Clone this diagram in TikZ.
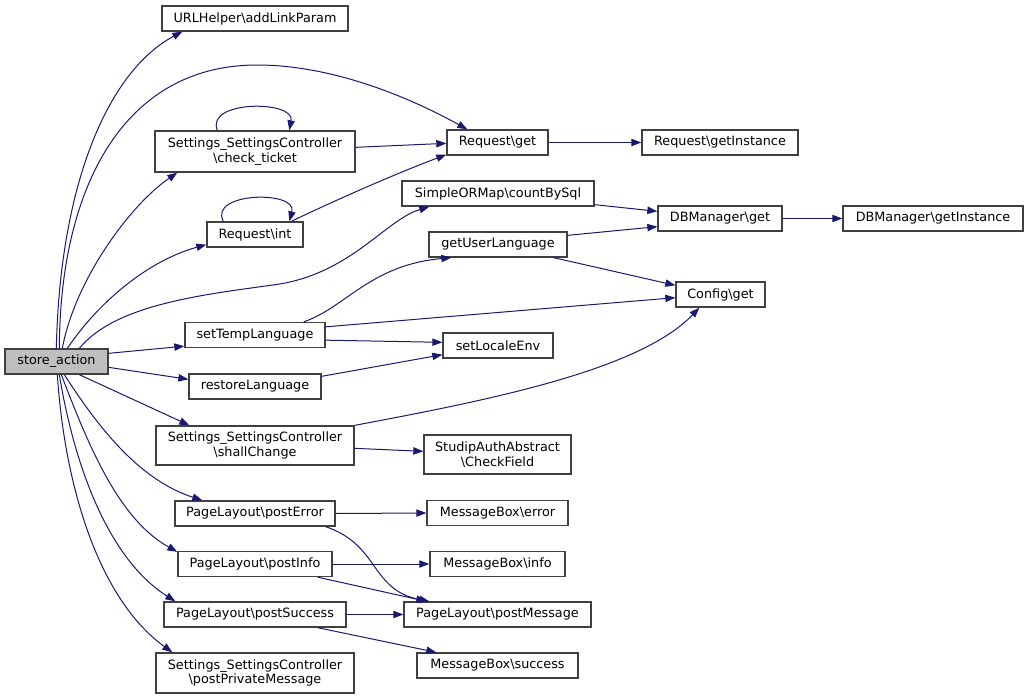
\documentclass[tikz,border=0pt]{standalone}
\usepackage{fontspec}
\setmainfont{DejaVu Sans}
\usetikzlibrary{arrows.meta}
\definecolor{navy}{HTML}{191970}
\definecolor{bord}{HTML}{404040}
\definecolor{graybg}{HTML}{BFBFBF}
\newcommand\bksl{\textbackslash}
\begin{document}
\begin{tikzpicture}[x=0.75pt,y=-0.75pt,
  box/.style={draw=bord, line width=1pt, fill=white, inner sep=0pt,
    minimum height=25*0.75pt, align=center,
    font=\fontsize{9.6pt}{11pt}\selectfont},
  wd/.style={minimum width=#1*0.75pt},
  ht/.style={minimum height=#1*0.75pt},
  edge/.style={draw=navy, line width=0.75pt, -{Triangle[length=7.5pt,width=5.5pt]}}]
\useasboundingbox (0,0) rectangle (1028,699);

% column 1
\node[box, wd=103, fill=graybg] (store) at (56.5,361.5) {store\_action};
\node[box, wd=186] (url) at (255,18.5) {URLHelper\bksl addLinkParam};
\node[box, wd=200, ht=41] (ticket) at (255,151.5) {Settings\_SettingsController\\\bksl check\_ticket};
\node[box, wd=96] (rint) at (255,234.5) {Request\bksl int};
\node[box, wd=140] (settemp) at (255,335) {setTempLanguage};
\node[box, wd=132] (restore) at (255,386.5) {restoreLanguage};
\node[box, wd=198, ht=39] (shall) at (255,445.5) {Settings\_SettingsController\\\bksl shallChange};
\node[box, wd=160] (posterror) at (255,513.5) {PageLayout\bksl postError};
\node[box, wd=154] (postinfo) at (255,564) {PageLayout\bksl postInfo};
\node[box, wd=182] (postsuccess) at (255,614.5) {PageLayout\bksl postSuccess};
\node[box, wd=198, ht=40] (private) at (255,673) {Settings\_SettingsController\\\bksl postPrivateMessage};

% column 2
\node[box, wd=101] (rget) at (497.5,142.5) {Request\bksl get};
\node[box, wd=192] (count) at (498,193.5) {SimpleORMap\bksl countBySql};
\node[box, wd=138] (userlang) at (498,244.5) {getUserLanguage};
\node[box, wd=110] (locale) at (498,345.5) {setLocaleEnv};
\node[box, wd=147, ht=39] (checkfield) at (497.5,454.5) {StudipAuthAbstract\\\bksl CheckField};
\node[box, wd=141] (mberror) at (497.5,513) {MessageBox\bksl error};
\node[box, wd=135] (mbinfo) at (497.5,564) {MessageBox\bksl info};
\node[box, wd=187] (postmsg) at (497.5,614.5) {PageLayout\bksl postMessage};
\node[box, wd=161] (mbsuccess) at (497.5,665.5) {MessageBox\bksl success};

% column 3
\node[box, wd=156] (getinst) at (720,142.5) {Request\bksl getInstance};
\node[box, wd=124] (dbget) at (720,218.5) {DBManager\bksl get};
\node[box, wd=89] (config) at (720.5,294.5) {Config\bksl get};

% column 4
\node[box, wd=180] (dbinst) at (933,218.5) {DBManager\bksl getInstance};

% edges from store_action
\draw[edge] ([shift={(52,0)}]store.north west) .. controls (60,180) and (110,70) .. ([shift={(21,0)}]url.south west);
\draw[edge] ([shift={(55,0)}]store.north west) .. controls (60,185) and (125,65) .. (257,65)
  .. controls (330,65) and (405,95) .. ([shift={(21,0)}]rget.north west);
\draw[edge] ([shift={(58,0)}]store.north west) .. controls (75,280) and (130,205) .. ([shift={(23,0)}]ticket.south west);
\draw[edge] ([shift={(63,0)}]store.north west) .. controls (100,300) and (150,260) .. ([shift={(0,-3)}]rint.south west);
\draw[edge] ([shift={(75,0)}]store.north west) .. controls (115,305) and (200,295) .. (273,285)
  .. controls (350,275) and (385,220) .. ([shift={(28,0)}]count.south west);
\draw[edge] ([shift={(0,5)}]store.north east) -- ([shift={(0,-2)}]settemp.south west);
\draw[edge] ([shift={(0,19)}]store.north east) -- ([shift={(0,6)}]restore.north west);
\draw[edge] ([shift={(75,0)}]store.south west) -- ([shift={(34,0)}]shall.north west);
\draw[edge] ([shift={(60,0)}]store.south west) .. controls (100,430) and (140,480) .. ([shift={(28,0)}]posterror.north west);
\draw[edge] ([shift={(57,0)}]store.south west) .. controls (90,450) and (120,520) .. ([shift={(0,1)}]postinfo.north west);
\draw[edge] ([shift={(55,0)}]store.south west) .. controls (75,470) and (110,560) .. ([shift={(12,0)}]postsuccess.north west);
\draw[edge] ([shift={(53,0)}]store.south west) .. controls (65,490) and (100,600) .. ([shift={(17,0)}]private.north west);

% self loops
\draw[edge] ([shift={(63,0)}]ticket.north west) .. controls (205,100) and (295,100) .. ([shift={(135,0)}]ticket.north west);
\draw[edge] ([shift={(17,0)}]rint.north west) .. controls (208,192) and (298,190) .. ([shift={(83,0)}]rint.north west);

% other edges
\draw[edge] ([shift={(0,17)}]ticket.north east) -- ([shift={(0,14)}]rget.north west);
\draw[edge] ([shift={(85,0)}]rint.north west) .. controls (340,198) and (400,172) .. ([shift={(0,-1)}]rget.south west);
\draw[edge] (rget.east) -- (getinst.west);
\draw[edge] ([shift={(0,-2)}]count.south east) -- ([shift={(0,6)}]dbget.north west);
\draw[edge] ([shift={(0,4)}]userlang.north east) -- ([shift={(0,-5)}]dbget.south west);
\draw[edge] ([shift={(-14,0)}]userlang.south east) -- ([shift={(0,4)}]config.north west);
\draw[edge] (dbget.east) -- (dbinst.west);
\draw[edge] ([shift={(-22,0)}]settemp.north east) .. controls (345,308) and (370,265) .. ([shift={(23,0)}]userlang.south west);
\draw[edge] ([shift={(0,5)}]settemp.north east) -- ([shift={(0,-10)}]config.south west);
\draw[edge] ([shift={(0,-8)}]settemp.south east) -- ([shift={(0,10)}]locale.north west);
\draw[edge] ([shift={(0,3)}]restore.north east) -- ([shift={(0,-4)}]locale.south west);
\draw[edge] (shall.north east) .. controls (490,400) and (640,370) .. ([shift={(24,0)}]config.south west);
\draw[edge] ([shift={(0,23)}]shall.north east) -- ([shift={(0,17)}]checkfield.north west);
\draw[edge] (posterror.east) -- (mberror.west);
\draw[edge] ([shift={(-10,0)}]posterror.south east) .. controls (380,545) and (370,590) .. ([shift={(26,0)}]postmsg.north west);
\draw[edge] (postinfo.east) -- (mbinfo.west);
\draw[edge] ([shift={(-15,0)}]postinfo.south east) -- ([shift={(23,0)}]postmsg.north west);
\draw[edge] (postsuccess.east) -- (postmsg.west);
\draw[edge] ([shift={(-29,0)}]postsuccess.south east) -- ([shift={(20,0)}]mbsuccess.north west);
\end{tikzpicture}
\end{document}
